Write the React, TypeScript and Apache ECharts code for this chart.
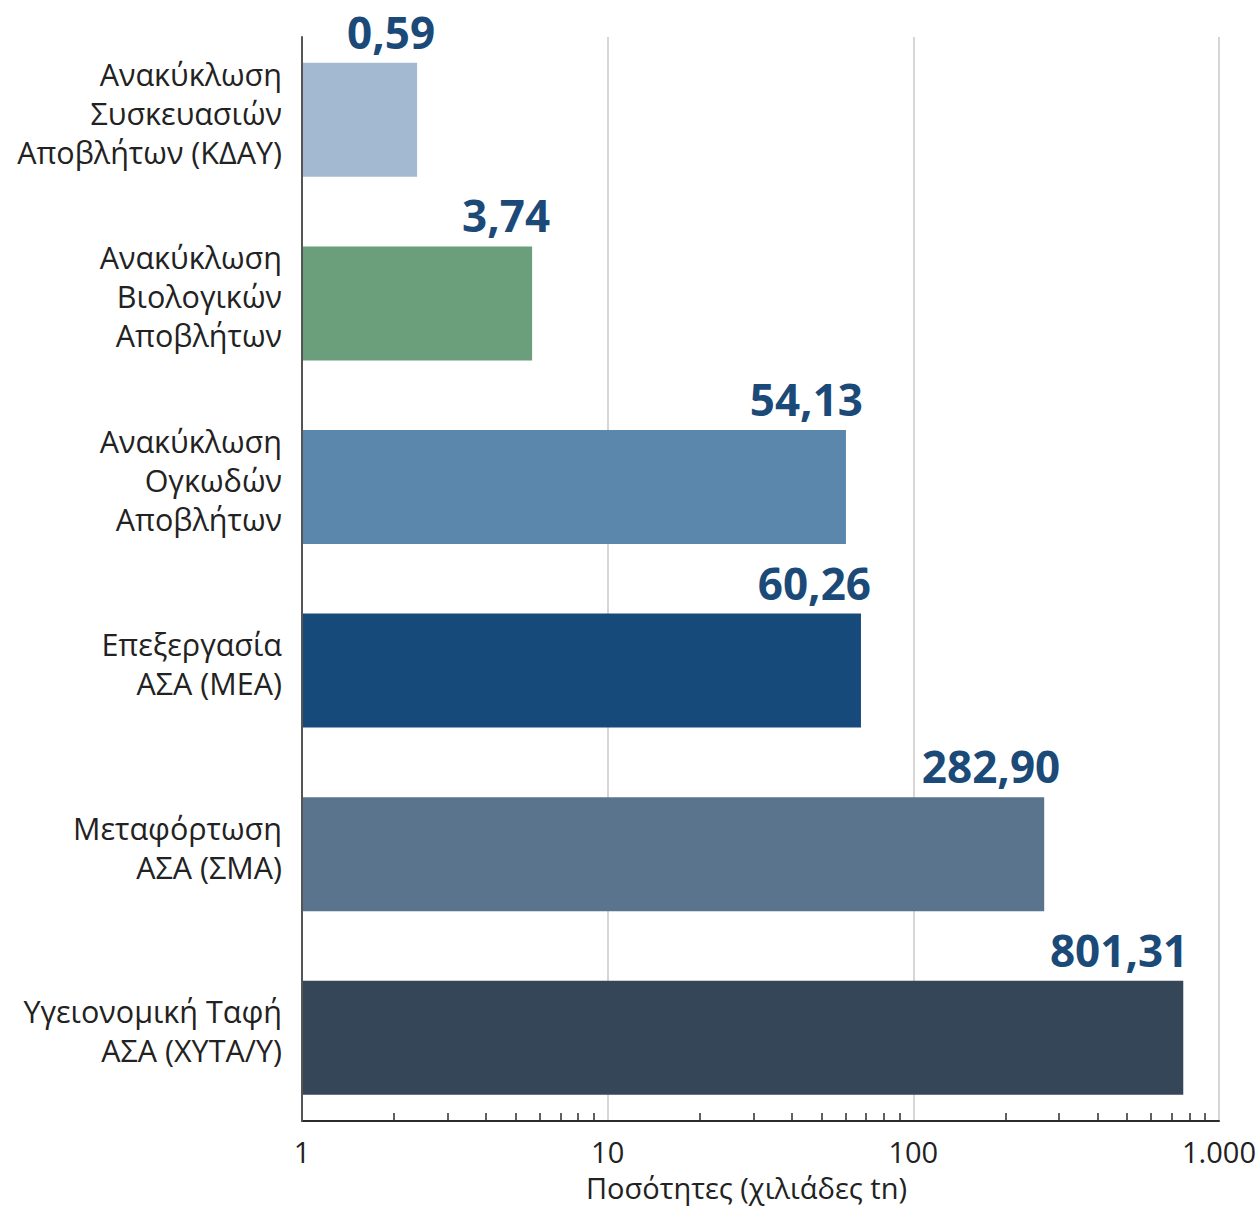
import React, { useEffect, useRef } from "react";
import * as echarts from "echarts";

// ---- data ----
const categories = [
  "Ανακύκλωση\nΣυσκευασιών\nΑποβλήτων (ΚΔΑΥ)",
  "Ανακύκλωση\nΒιολογικών\nΑποβλήτων",
  "Ανακύκλωση\nΟγκωδών\nΑποβλήτων",
  "Επεξεργασία\nΑΣΑ (ΜΕΑ)",
  "Μεταφόρτωση\nΑΣΑ (ΣΜΑ)",
  "Υγειονομική Ταφή\nΑΣΑ (ΧΥΤΑ/Υ)",
];
// values printed above the bars (χιλιάδες tn)
const printedValues = [0.59, 3.74, 54.13, 60.26, 282.9, 801.31];
// bar ends as drawn against the log axis in the picture
const drawnBarLengths = [2.38, 5.66, 60.2, 67.4, 268, 764];
const axisTicks = [1, 10, 100, 1000];
const minorTickValues = [
  2, 3, 4, 5, 6, 7, 8, 9, 20, 30, 40, 50, 60, 70, 80, 90, 200, 300, 400, 500,
  600, 700, 800, 900,
];
const axisTitle = "Ποσότητες (χιλιάδες tn)";

// ---- styling ----
const barColors = ["#a3b9d1", "#6b9e7a", "#5b87ad", "#164a7a", "#5a748d", "#344658"];
const labelShiftX = [18, 18, 17, 10, 16, 5];
const FONT = "'Open Sans', 'Noto Sans', sans-serif";

const fmtThousands = (v: number) =>
  String(Math.round(v)).replace(/\B(?=(\d{3})+(?!\d))/g, ".");
const fmtValue = (v: number) => v.toFixed(2).replace(".", ",");

export default function App() {
  const ref = useRef<HTMLDivElement>(null);
  useEffect(() => {
    if (!ref.current) return;
    const chart = echarts.init(ref.current, undefined, { renderer: "svg" });
    const gridSide = { left: 302, right: 40 };
    chart.setOption({
      animation: false,
      backgroundColor: "#ffffff",
      textStyle: { fontFamily: FONT },
      grid: [
        { ...gridSide, top: 37, bottom: 92 },
        { ...gridSide, top: 28, height: 1101.6 },
      ],
      xAxis: [
        {
          gridIndex: 0,
          type: "log",
          logBase: 10,
          min: axisTicks[0],
          max: axisTicks[axisTicks.length - 1],
          axisLine: { show: true, lineStyle: { color: "#2b2b2b", width: 2 } },
          axisTick: { show: false },
          axisLabel: {
            show: true,
            margin: 16,
            fontSize: 29,
            color: "#222222",
            fontFamily: FONT,
            formatter: (v: number) => fmtThousands(v),
          },
          splitLine: { show: true, lineStyle: { color: "#c9c9c9", width: 1.5 } },
          name: axisTitle,
          nameLocation: "middle",
          nameGap: 52,
          nameTextStyle: {
            fontSize: 29,
            color: "#222222",
            fontFamily: FONT,
            padding: [0, 28, 0, 0],
          },
        },
        {
          gridIndex: 0,
          type: "log",
          logBase: 10,
          min: axisTicks[0],
          max: axisTicks[axisTicks.length - 1],
          position: "bottom",
          axisLine: { show: false },
          axisLabel: { show: false },
          splitLine: { show: false },
          axisTick: {
            show: true,
            inside: true,
            length: 8,
            customValues: minorTickValues,
            lineStyle: { color: "#2b2b2b", width: 1.5 },
          },
        },
        {
          gridIndex: 1,
          type: "log",
          logBase: 10,
          min: axisTicks[0],
          max: axisTicks[axisTicks.length - 1],
          show: false,
        },
      ],
      yAxis: [
        {
          gridIndex: 0,
          type: "category",
          data: categories,
          inverse: true,
          z: 5,
          axisLine: { show: true, lineStyle: { color: "#555555", width: 2 } },
          axisTick: { show: false },
          axisLabel: { show: false },
          splitLine: { show: false },
        },
        {
          gridIndex: 1,
          type: "category",
          data: categories,
          inverse: true,
          axisLine: { show: false },
          axisTick: { show: false },
          splitLine: { show: false },
          axisLabel: {
            show: true,
            margin: 20,
            fontSize: 30.5,
            lineHeight: 39,
            color: "#222222",
            fontFamily: FONT,
            align: "right",
            formatter: (v: string) => v + "\n{gap|}",
            rich: { gap: { fontSize: 1, lineHeight: 14 } },
          },
        },
      ],
      series: [
        {
          type: "bar",
          xAxisIndex: 2,
          yAxisIndex: 1,
          barWidth: 114,
          data: drawnBarLengths.map((v, i) => ({
            value: v,
            itemStyle: { color: barColors[i] },
            label: { offset: [labelShiftX[i], -9] },
          })),
          label: {
            show: true,
            position: ["100%", 0],
            align: "right",
            verticalAlign: "bottom",
            fontSize: 44,
            lineHeight: 44,
            fontWeight: "bold",
            fontFamily: FONT,
            color: "#1b4a78",
            formatter: (p: any) => fmtValue(printedValues[p.dataIndex]),
          },
        },
      ],
    });
    return () => chart.dispose();
  }, []);
  return (
    <div
      ref={ref}
      style={{ position: "fixed", left: 0, top: 0, width: 1259, height: 1213 }}
    />
  );
}
